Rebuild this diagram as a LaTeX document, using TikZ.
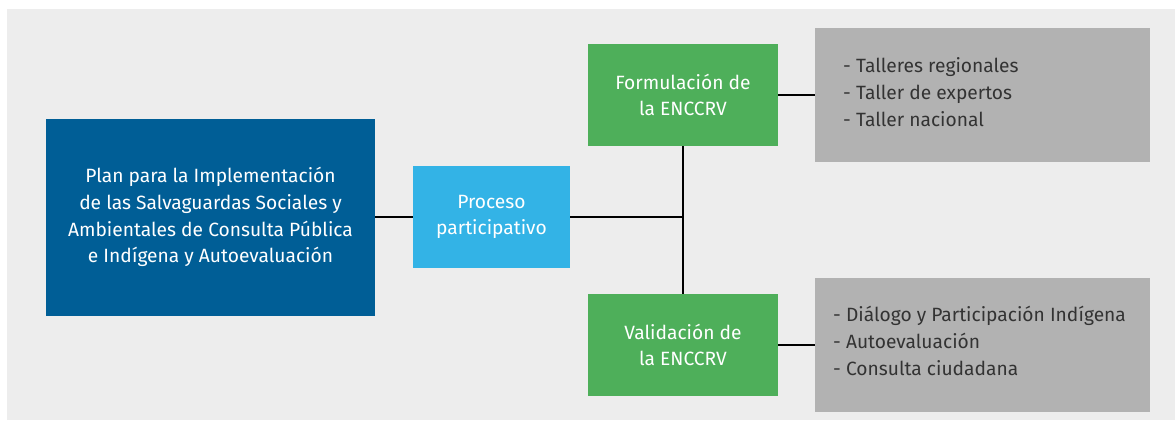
\documentclass[tikz,border=0pt]{standalone}
\usepackage{fontspec}
\setmainfont{Fira Sans}
\definecolor{bgc}{HTML}{EDEDED}
\definecolor{navy}{HTML}{005E96}
\definecolor{sky}{HTML}{33B3E6}
\definecolor{leaf}{HTML}{4EAF5A}
\definecolor{stone}{HTML}{B2B2B2}
\definecolor{ink}{HTML}{333333}
\begin{document}
\begin{tikzpicture}[x=1pt,y=-1pt,
  box/.style={draw=none,inner sep=0pt,align=center,text=white,font=\fontsize{19.2}{26.7}\selectfont},
  listtext/.style={inner sep=0pt,align=left,text=ink,font=\fontsize{19.2}{26.7}\selectfont,anchor=west},
  link/.style={line width=2.5pt,black}]
\useasboundingbox (0,0) rectangle (1175,421);
\fill[bgc] (7,9) rectangle (1175,420);
\node[box,fill=navy,minimum width=329pt,minimum height=197pt] (plan) at (210.5,217)
  {Plan para la Implementación\\de las Salvaguardas Sociales y\\Ambientales de Consulta Pública\\e Indígena y Autoevaluación};
\node[box,fill=sky,minimum width=157pt,minimum height=102pt] (proc) at (491.5,217)
  {Proceso\\participativo};
\node[box,fill=leaf,minimum width=190pt,minimum height=102pt] (form) at (683,95)
  {Formulación de\\la ENCCRV};
\node[box,fill=leaf,minimum width=190pt,minimum height=102pt] (vali) at (683,345)
  {Validación de\\la ENCCRV};
\node[fill=stone,minimum width=335pt,minimum height=134pt,inner sep=0pt] (g1) at (982.5,95) {};
\node[fill=stone,minimum width=335pt,minimum height=134pt,inner sep=0pt] (g2) at (982.5,345) {};
\node[listtext] (t1) at (843,92) {- Talleres regionales\\- Taller de expertos\\- Taller nacional};
\node[listtext] (t2) at (833,341) {- Diálogo y Participación Indígena\\- Autoevaluación\\- Consulta ciudadana};
\coordinate (j) at (683,217);
\draw[link] (plan.east) -- (proc.west);
\draw[link] (proc.east) -- (j);
\draw[link] (form.south) -- (vali.north);
\draw[link] (form.east) -- (g1.west);
\draw[link] (vali.east) -- (g2.west);
\end{tikzpicture}
\end{document}
